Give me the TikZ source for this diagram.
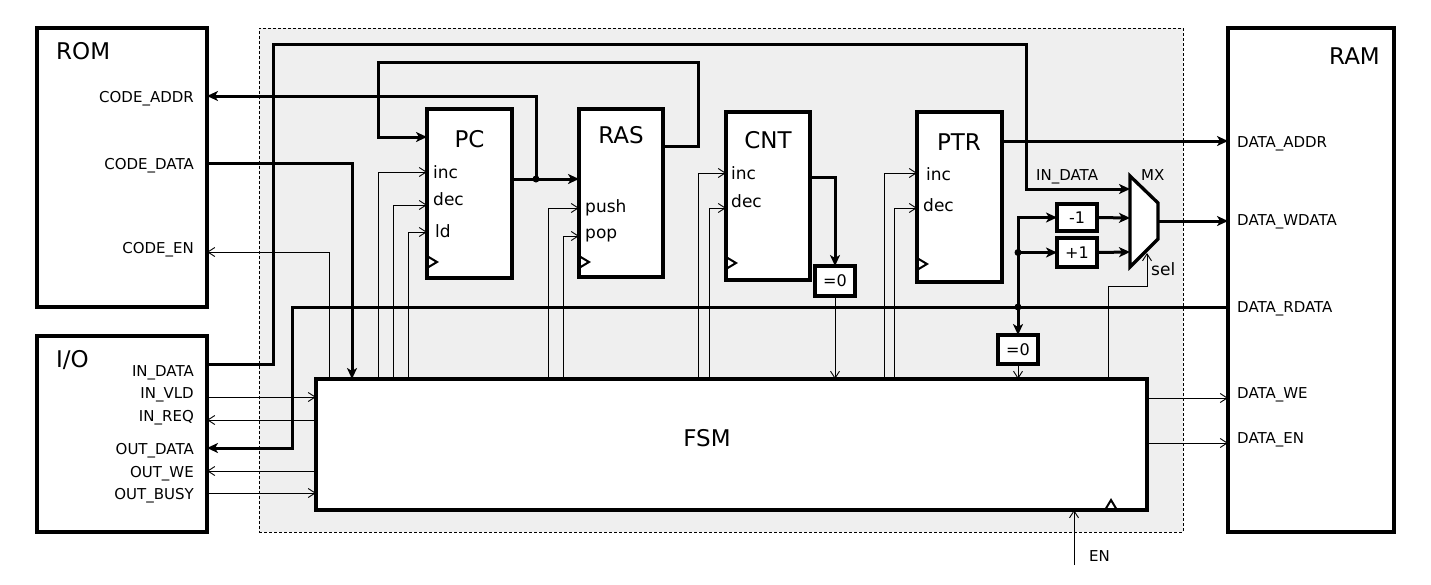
\documentclass[tikz,border=0pt]{standalone}
\usepackage{fontspec}
\setmainfont{DejaVu Sans}
\usepackage{tikz}
\usetikzlibrary{arrows.meta}
\usetikzlibrary{positioning}
\definecolor{shade}{HTML}{EFEFEF}
\tikzstyle{core} = [draw, dash pattern=on 3pt off 2pt, fill=shade, line width=0.8pt,
    anchor=north west, inner sep=0pt, outer sep=0pt]
\tikzstyle{block} = [rectangle, draw, fill=white, line width=3.3pt,
    anchor=north west, inner sep=0pt, outer sep=0pt]
\tikzstyle{small} = [rectangle, draw, fill=white, line width=3.3pt, inner sep=0pt,
    outer sep=0pt, minimum width=40pt, minimum height=28pt,
    font=\fontsize{16}{19}\selectfont]
\tikzstyle{bus} = [draw, line width=3pt, -{Stealth[length=11pt,width=10pt,inset=3pt]}]
\tikzstyle{wire} = [draw, line width=0.9pt, -{Straight Barb[length=7pt,width=9pt]}]
\tikzstyle{clk} = [draw, line width=2pt]
\tikzstyle{title} = [inner sep=0pt, font=\fontsize{23}{27}\selectfont]
\tikzstyle{port} = [inner sep=0pt, anchor=base west, font=\fontsize{17}{20}\selectfont]
\tikzstyle{sig} = [inner sep=0pt, font=\fontsize{15}{18}\selectfont]

\begin{document}
\begin{tikzpicture}[x=1pt, y=-1pt]
  \useasboundingbox (0,0) rectangle (1431,584);
  % Place nodes
  \node [core, minimum width=924pt, minimum height=504pt] (core) at (259,28) {};
  \node [block, minimum width=170pt, minimum height=279pt] (rom) at (37,28) {};
  \node [block, minimum width=170pt, minimum height=196pt] (io) at (37,336) {};
  \node [block, minimum width=166pt, minimum height=504pt] (ram) at (1228,28) {};
  \node [block, minimum width=85pt, minimum height=169pt] (pc) at (427,109) {};
  \node [block, minimum width=84pt, minimum height=168pt] (ras) at (579,109) {};
  \node [block, minimum width=84pt, minimum height=168pt] (cnt) at (726,112) {};
  \node [block, minimum width=85pt, minimum height=170pt] (ptr) at (917,112) {};
  \node [block, minimum width=831pt, minimum height=131pt] (fsm) at (316,379) {};
  \node [small, minimum height=30pt] (zcnt) at (835,281) {=0};
  \node [small, minimum height=29pt] (zdat) at (1018,349.5) {=0};
  \node [small, minimum height=27pt] (minus) at (1077,217.5) {-1};
  \node [small, minimum height=29pt] (plus) at (1077,252.5) {+1};
  \draw [line width=3.3pt, fill=white] (1130,176) -- (1158,203) -- (1158,239) -- (1130,267) -- cycle;
  \coordinate (mxa) at (1130,189);
  \coordinate (mxb) at (1130,218);
  \coordinate (mxc) at (1130,252);
  \coordinate (mxo) at (1158,221);
  \coordinate (mxs) at (1147,253);
  \coordinate (pcj) at (536,179);
  \coordinate (rdj) at (1018,307);
  \coordinate (en) at (1074,565);

  % titles
  \node [title, anchor=base west] (romt) at (56,59) {ROM};
  \node [title, anchor=base west] (iot) at (56,367) {I/O};
  \node [title, anchor=base east] (ramt) at (1380,64) {RAM};
  \node [title, anchor=base] (pct) at (469.5,147) {PC};
  \node [title, anchor=base] (rast) at (621,143) {RAS};
  \node [title, anchor=base] (cntt) at (768,148) {CNT};
  \node [title, anchor=base] (ptrt) at (959,150) {PTR};
  \node [title, anchor=base] (fsmt) at (707,446) {FSM};

  % ports
  \node [port] (pcinc) at (433,178) {inc};
  \node [port] (pcdec) at (433,205) {dec};
  \node [port] (pcld) at (435,237) {ld};
  \node [port] (raspush) at (585,212) {push};
  \node [port] (raspop) at (585,238) {pop};
  \node [port] (cntinc) at (731,179) {inc};
  \node [port] (cntdec) at (731,207) {dec};
  \node [port] (ptrinc) at (926,180) {inc};
  \node [port] (ptrdec) at (923,211) {dec};
  \node [port] (sel) at (1151,275) {sel};

  % signal names
  \node [sig, anchor=base east] (caddr) at (194,102) {CODE\_ADDR};
  \node [sig, anchor=base east] (cdata) at (194,169) {CODE\_DATA};
  \node [sig, anchor=base east] (cen) at (194,253) {CODE\_EN};
  \node [sig, anchor=base east] (indata) at (194,376) {IN\_DATA};
  \node [sig, anchor=base east] (invld) at (194,398) {IN\_VLD};
  \node [sig, anchor=base east] (inreq) at (194,421) {IN\_REQ};
  \node [sig, anchor=base east] (outdata) at (194,454) {OUT\_DATA};
  \node [sig, anchor=base east] (outwe) at (194,477) {OUT\_WE};
  \node [sig, anchor=base east] (outbusy) at (194,499) {OUT\_BUSY};
  \node [sig, anchor=base west] (daddr) at (1237,147) {DATA\_ADDR};
  \node [sig, anchor=base west] (dwdata) at (1237,225) {DATA\_WDATA};
  \node [sig, anchor=base west] (drdata) at (1237,312) {DATA\_RDATA};
  \node [sig, anchor=base west] (dwe) at (1237,398) {DATA\_WE};
  \node [sig, anchor=base west] (den) at (1237,443) {DATA\_EN};
  \node [sig, anchor=base west] (indlbl) at (1036,180) {IN\_DATA};
  \node [sig, anchor=base west] (mxt) at (1141,180) {MX};
  \node [sig, anchor=base west] (ent) at (1089,561) {EN};

  % clocks
  \path [clk] (pc.west |- 0,256) -- (437,262) -- (pc.west |- 0,268);
  \path [clk] (ras.west |- 0,256) -- (589,262) -- (ras.west |- 0,268);
  \path [clk] (cnt.west |- 0,257) -- (736,263) -- (cnt.west |- 0,269);
  \path [clk] (ptr.west |- 0,258) -- (927,264) -- (ptr.west |- 0,270);
  \path [clk] (fsm.south -| 1105,0) -- (1111,500) -- (fsm.south -| 1117,0);

  %buses
  \path [bus] (io.east |- 0,364) -- (273,364) -- (273,44) -| (1026,189) -- (mxa);
  \path [bus] (rom.east |- 0,163) -| (fsm.north -| 352,0);
  \path [bus] (pc.east |- 0,179) -- (ras.west |- 0,179);
  \path [bus] (pcj) |- (rom.east |- 0,96);
  \path [bus] (ras.east |- 0,146) -| (698,62) -| (378,137) -- (pc.west |- 0,137);
  \path [bus] (cnt.east |- 0,177) -| (zcnt.north);
  \path [bus] (ptr.east |- 0,141) -- (ram.west |- 0,141);
  \path [bus] (ram.west |- 0,307) -- (292,307) |- (io.east |- 0,448);
  \path [bus] (rdj) -- (zdat.north);
  \path [bus] (rdj) |- (minus.west);
  \path [bus] (rdj |- plus.west) -- (plus.west);
  \path [bus] (minus.east) -- (mxb);
  \path [bus] (plus.east) -- (mxc);
  \path [bus] (mxo) -- (ram.west |- mxo);
  \fill (pcj) circle (3.5pt);
  \fill (rdj) circle (3.5pt);
  \fill (rdj |- plus.west) circle (3.5pt);

  %control
  \path [wire] (fsm.north -| 329,0) |- (rom.east |- 0,252);
  \path [wire] (fsm.north -| 378,0) |- (pc.west |- 0,172);
  \path [wire] (fsm.north -| 393,0) |- (pc.west |- 0,205);
  \path [wire] (fsm.north -| 408,0) |- (pc.west |- 0,232);
  \path [wire] (fsm.north -| 548,0) |- (ras.west |- 0,208);
  \path [wire] (fsm.north -| 563,0) |- (ras.west |- 0,236);
  \path [wire] (fsm.north -| 698,0) |- (cnt.west |- 0,173);
  \path [wire] (fsm.north -| 709,0) |- (cnt.west |- 0,208);
  \path [wire] (fsm.north -| 884,0) |- (ptr.west |- 0,173);
  \path [wire] (fsm.north -| 894,0) |- (ptr.west |- 0,208);
  \path [wire] (zcnt.south) -- (zcnt.south |- fsm.north);
  \path [wire] (zdat.south) -- (zdat.south |- fsm.north);
  \path [wire] (fsm.north -| 1108,0) |- (1147,286) -- (mxs);
  \path [wire] (io.east |- 0,397) -- (fsm.west |- 0,397);
  \path [wire] (fsm.west |- 0,420) -- (io.east |- 0,420);
  \path [wire] (fsm.west |- 0,471) -- (io.east |- 0,471);
  \path [wire] (io.east |- 0,493) -- (fsm.west |- 0,493);
  \path [wire] (fsm.east |- 0,398) -- (ram.west |- 0,398);
  \path [wire] (fsm.east |- 0,443) -- (ram.west |- 0,443);
  \path [wire] (en) -- (en |- fsm.south);

\end{tikzpicture}
\end{document}
